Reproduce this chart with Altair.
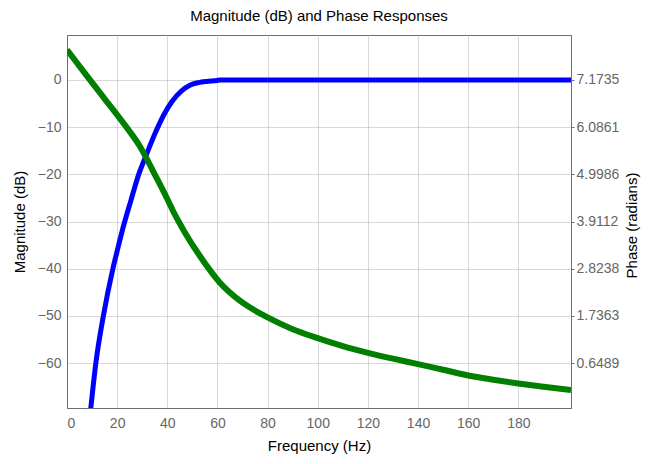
import altair as alt
import pandas as pd

# Magnitude response (dB) vs frequency (Hz)
mag_freq = [9.2, 9.5, 11.5, 14.5, 18.3, 20.3, 22.4, 25.5, 28.6, 31.6, 35.8, 38.8, 41.8, 45.7, 49.0, 52.5, 55.7, 59.7, 61.0, 201.0]
mag_db = [-71.0, -69.5, -60.0, -50.0, -40.0, -35.6, -31.2, -25.5, -20.0, -15.9, -10.5, -7.2, -4.6, -2.3, -1.1, -0.55, -0.3, -0.1, 0.0, 0.0]

# Phase response (radians) vs frequency (Hz)
ph_freq = [0, 5, 8.7, 15, 20.6, 25, 29, 31.4, 35.1, 39.8, 43.1, 47, 53, 60.9, 68.8, 76.8, 80, 90, 100, 110, 120, 130, 140, 150, 160, 170, 180, 190, 201]
ph_rad = [7.870, 7.490, 7.210, 6.740, 6.325, 5.988, 5.651, 5.401, 4.988, 4.455, 4.063, 3.661, 3.117, 2.509, 2.095,
          1.802, 1.704, 1.432, 1.225, 1.041, 0.888, 0.752, 0.627, 0.497, 0.366, 0.268, 0.181, 0.105, 0.029]

x_ticks = [0, 20, 40, 60, 80, 100, 120, 140, 160, 180]
mag_ticks = [0, -10, -20, -30, -40, -50, -60]
phase_ticks = [7.1735, 6.0861, 4.9986, 3.9112, 2.8238, 1.7363, 0.6489]

mag_df = pd.DataFrame({"f": mag_freq, "m": mag_db})
ph_df = pd.DataFrame({"f": ph_freq, "p": ph_rad})

FONT = "Liberation Sans"
x_scale = alt.Scale(domain=[0, 201], nice=False, zero=False)

mag_line = alt.Chart(mag_df).mark_line(color="#0000ff", strokeWidth=5, clip=True, interpolate="monotone").encode(
    x=alt.X("f:Q", scale=x_scale,
            axis=alt.Axis(values=x_ticks, title="Frequency (Hz)", grid=True, ticks=False,
                          labelPadding=8, titlePadding=8)),
    y=alt.Y("m:Q", scale=alt.Scale(domain=[-69.5, 9.53], nice=False, zero=False),
            axis=alt.Axis(values=mag_ticks, title="Magnitude (dB)", grid=True, ticks=False,
                          labelPadding=6, titlePadding=10)),
)

ph_line = alt.Chart(ph_df).mark_line(color="#007f00", strokeWidth=6, clip=True, interpolate="monotone").encode(
    x=alt.X("f:Q", scale=x_scale),
    y=alt.Y("p:Q", scale=alt.Scale(domain=[-0.3839, 8.2098], nice=False, zero=False),
            axis=alt.Axis(orient="right", values=phase_ticks, format=".4f", title="Phase (radians)",
                          grid=False, ticks=True, tickSize=3, labelPadding=2,
                          titleAngle=270, titleX=60, titleY=190, titleAlign="center",
                          titleBaseline="middle")),
)

chart = alt.layer(mag_line, ph_line).resolve_scale(y="independent").properties(
    width=504, height=373,
    background="white",
    autosize=alt.AutoSizeParams(type="none"),
    padding={"left": 59, "top": 27, "right": 70, "bottom": 48},
    title=alt.TitleParams("Magnitude (dB) and Phase Responses", fontSize=15, font=FONT,
                          fontWeight="normal", color="#000000", offset=11, anchor="middle"),
).configure_view(stroke="#707070", strokeWidth=1).configure_axis(
    labelFont=FONT, labelFontSize=14, labelColor="#666666",
    titleFont=FONT, titleFontSize=15, titleFontWeight="normal", titleColor="#000000",
    domainColor="#707070", tickColor="#707070",
    gridColor="#b0b0b0", gridDash=[1, 1], gridWidth=1,
)

chart.save("out.html", embed_options={"renderer": "svg", "actions": False})
